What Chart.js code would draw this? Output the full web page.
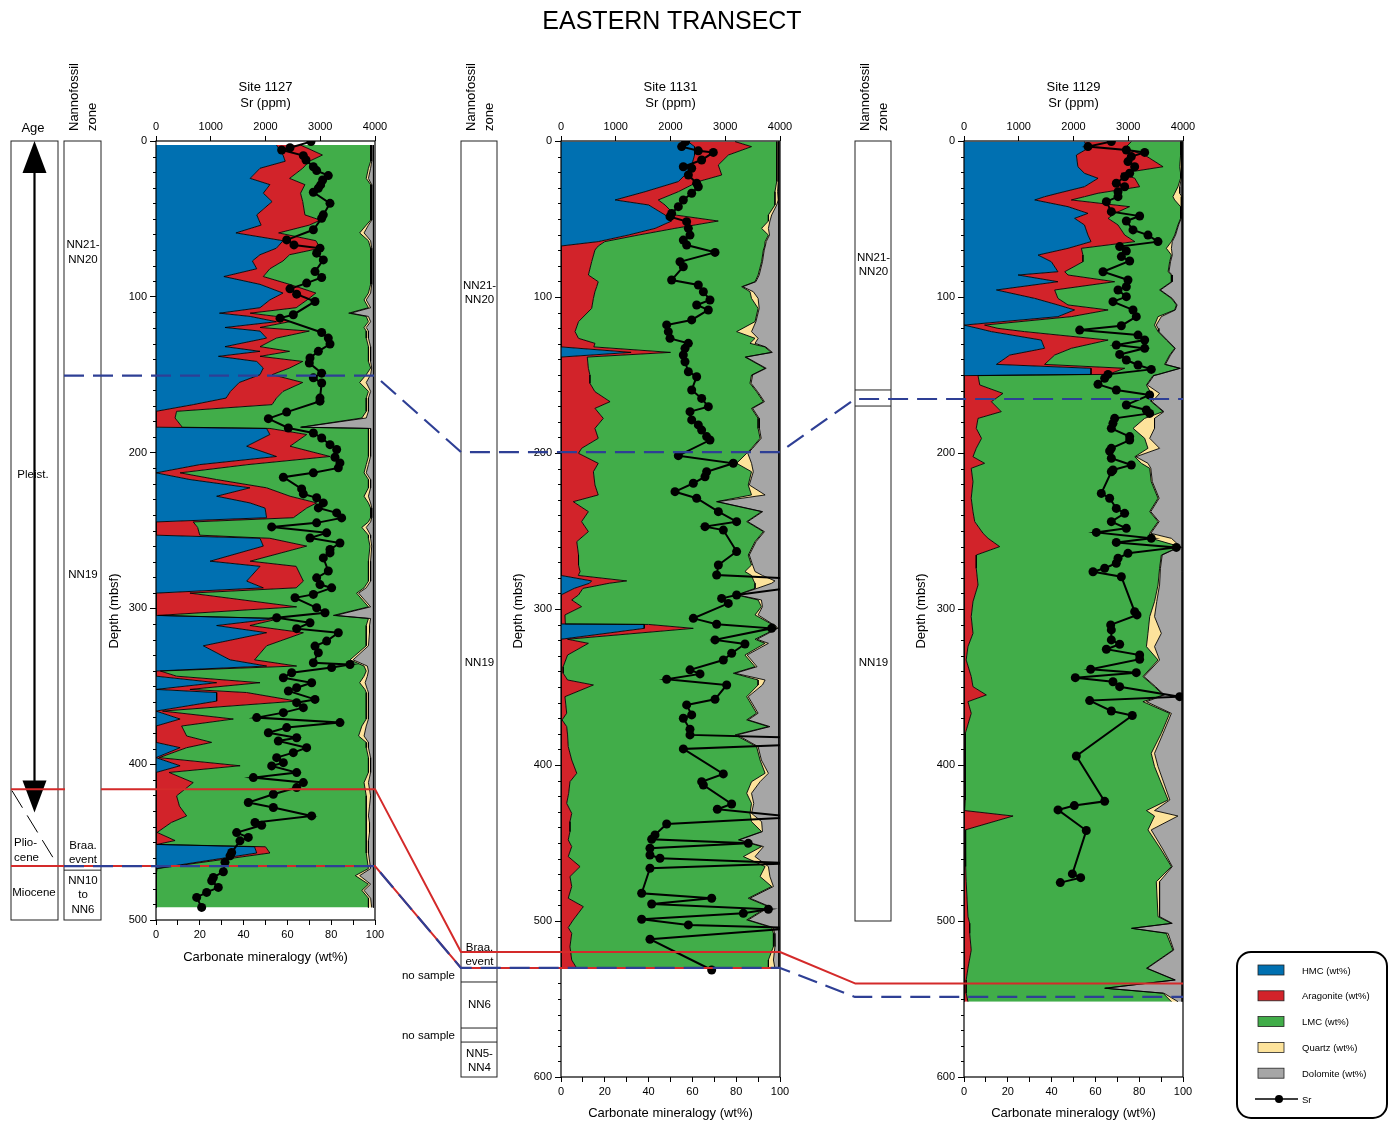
<!DOCTYPE html>
<html lang="en">
<head>
<meta charset="utf-8">
<title>Eastern Transect</title>
<script src="https://cdn.jsdelivr.net/npm/chart.js@4.4.1/dist/chart.umd.min.js"></script>
<style>
  html, body { margin: 0; padding: 0; background: #fff; }
  body { position: relative; width: 1389px; height: 1123px; overflow: hidden; }
  canvas, svg { position: absolute; }
  #overlay { left: 0; top: 0; pointer-events: none; font-family: 'Liberation Sans', Arial, sans-serif; }
</style>
</head>
<body>
<canvas id="c1127" width="290" height="915" style="left:100px; top:60px"></canvas>
<canvas id="c1131" width="290" height="1063" style="left:505px; top:60px"></canvas>
<canvas id="c1129" width="290" height="1063" style="left:908px; top:60px"></canvas>
<svg id="overlay" width="1389" height="1123"></svg>
<script>
// ---- Site 1127: carbonate mineralogy (wt%) by depth (mbsf)
const depth1127 = [
  2.6, 9, 13, 17.5, 24, 28, 33.5, 38.9, 47.4, 50.8,
  54, 59, 64, 68.8, 73, 77, 82, 87, 92, 97.6,
  102, 107, 110.5, 112.6, 116, 119.7, 122, 126.5, 132, 135,
  138.2, 141.5, 145.7, 150, 155, 160.7, 165, 169.2, 173.5, 177.8,
  183.7, 184.5, 188.4, 195.9, 202.5, 207.7, 213, 217.3, 222.6, 228,
  232.3, 235.6, 241.8, 244.5, 248, 253, 255, 260, 269.7, 273,
  282.5, 286.8, 290.2, 299, 304.5, 306.5, 311, 315.6, 324, 333,
  337, 340.2, 343.5, 347.7, 352, 354, 359.5, 365.9, 371, 375.5,
  381.9, 386, 389.4, 395.8, 401, 405.3, 411.8, 420.3, 426.9, 433.2,
  437.4, 443.8, 449, 451.5, 453, 457, 467, 471.5, 477, 481,
  486, 492
];
const hmc1127 = [
  55, 58, 59, 47.5, 43, 52, 49, 53, 46, 47,
  48, 36.5, 58, 55, 47.5, 44, 46, 31, 47.5, 58,
  52, 47.5, 29, 43, 55, 31.5, 47.5, 50.5, 31.5, 47.5,
  28.5, 46, 49, 47.5, 38, 34, 32, 17, 0, 0,
  0, 50.5, 52, 41.4, 55, 20, 0, 15.5, 42.9, 27.7,
  42.9, 49.8, 50.5, 0, 0, 0, 47.5, 49, 24.7, 47.5,
  41.4, 49, 0, 0, 0, 55, 27.7, 50.5, 21.6, 33.8,
  50.5, 0, 0, 27.7, 0, 27.7, 27.7, 0, 11, 0,
  0, 0, 11, 0, 11, 0, 0, 0, 0, 0,
  0, 0, 0, 0, 45, 46, 0, 0, 0, 0,
  0, 0
];
const arag1127 = [
  11, 18, 11, 19.5, 18, 16, 17, 14, 22, 28,
  22, 19.5, 15, 20, 13.5, 14, 6, 18, 13.5, 15,
  17, 16.5, 14, 12, 6, 16, 22.5, 4.5, 16, 13.5,
  19, 21, 12, 5.5, 29, 24, 23, 36, 9.4, 8.7,
  12, 1.5, 16.8, 19.8, 24.5, 22, 11, 12.2, 7.6, 33.5,
  30.5, 19, 12.2, 17, 19, 20, 4.5, 19.8, 18.3, 16.5,
  25.9, 15, 15.5, 64.2, 1, 1.6, 15.2, 16.8, 28.9, 11.2,
  13.7, 2, 9.4, 19.8, 15.5, 13.7, 36.5, 3, 24.3, 11.7,
  14, 25.4, 3, 1.5, 27.4, 6, 17, 9.4, 10.7, 14,
  7, 0.5, 8.7, 0.5, 5, 6, 0.5, 0, 0, 0,
  0, 0
];
const lmc1127 = [
  32, 22, 28, 30, 35, 30, 32, 31, 30, 23,
  26, 37, 24, 23, 37, 40, 46, 49, 37, 24,
  26, 33, 45, 41, 36, 47.5, 26, 41, 49.5, 36,
  49.5, 30, 37, 43, 26, 39, 41, 43, 86.6, 85.3,
  54, 45, 28.2, 35.8, 17.5, 54, 84, 69.3, 46.5, 33.8,
  23.6, 29.2, 35.3, 80, 75, 77, 45, 28.9, 54, 33,
  29.7, 31, 76.1, 32.8, 80, 40.4, 53.1, 28.7, 45.5, 43.6,
  30.8, 94, 85.6, 45.5, 79.9, 54.6, 31.8, 93, 60.7, 82.3,
  78.5, 70.6, 82, 95.5, 58.6, 91, 78, 86.6, 85.3, 82,
  89, 95.5, 87.3, 95.5, 46, 44, 96.5, 91, 97, 94,
  97, 97
];
const qtz1127 = [
  0.5, 0.5, 0.5, 1, 1, 0.5, 0.5, 0.5, 0.5, 0.5,
  1, 2, 1, 0.5, 0.5, 0.5, 0.5, 0.5, 0.5, 1,
  1, 1, 1, 1, 1, 1, 1, 1, 1, 1,
  1, 1, 0.5, 2, 3, 1, 1, 1, 1, 2,
  0.5, 1, 1, 1, 1, 1, 1, 1, 1, 2,
  1, 0.5, 0.5, 1, 2, 1, 1, 0.8, 1, 1,
  1, 1, 0.9, 1, 1, 1, 1.5, 1.5, 1, 1.4,
  1.5, 1, 1.5, 2.5, 1.1, 1, 1, 1, 1, 2,
  2.5, 1, 1, 1, 1, 1, 2, 2, 1.5, 1,
  1.5, 1.5, 1, 1, 1, 1, 1, 2, 1, 1,
  1, 1.5
];
const dol1127 = [
  0.8, 0.8, 0.8, 1.3, 2.3, 0.8, 0.8, 0.8, 0.8, 0.8,
  2.3, 4.3, 1.3, 0.8, 0.8, 0.8, 0.8, 0.8, 0.8, 1.3,
  3.3, 1.3, 10.3, 2.3, 1.3, 3.3, 2.3, 2.3, 1.3, 1.3,
  1.3, 1.3, 0.8, 1.3, 3.3, 1.3, 2.3, 2.3, 2.3, 3.3,
  32.8, 1.3, 1.3, 1.3, 1.3, 2.3, 3.3, 1.3, 1.3, 2.3,
  1.3, 0.8, 0.8, 1.3, 3.3, 1.3, 1.3, 0.8, 1.3, 1.3,
  1.3, 3.3, 6.8, 1.3, 17.3, 1.3, 1.8, 1.8, 2.3, 9.3,
  2.8, 2.3, 2.8, 3.8, 2.8, 2.3, 2.3, 2.3, 2.3, 3.3,
  4.3, 2.3, 2.3, 1.3, 1.3, 1.3, 2.3, 1.3, 1.8, 2.3,
  1.8, 1.8, 2.3, 2.3, 2.3, 2.3, 1.3, 6.3, 1.3, 4.3,
  1.3, 0.8
];
const srDepth1127 = [
  0.4, 4.3, 5.8, 9.4, 12.2, 16.5, 19, 22.2, 25, 28.2,
  30.3, 32.9, 40, 47.4, 49.6, 57, 63.5, 66.7, 68.8, 72,
  76.3, 83.8, 87.6, 91.2, 94.9, 98.3, 103, 111.5, 113.7, 122.9,
  126.5, 130.3, 135, 139.3, 142.5, 149, 152, 155.3, 165, 167,
  174, 178.2, 184.2, 187.4, 190.6, 194.9, 198, 203, 206.6, 209.8,
  213, 215.8, 223.3, 226.5, 229, 232.3, 235.5, 238.7, 241.9, 245.1,
  247.7, 251.5, 254.8, 258, 262.2, 264.4, 267.6, 276, 280.4, 284.7,
  286.8, 291, 293.2, 299.6, 302.8, 306, 309.2, 313, 315.6, 321,
  324.2, 328.5, 334.9, 336, 338, 341.3, 344.5, 347.7, 350.9, 353,
  358.4, 360.5, 363.7, 366.9, 370.1, 373.3, 376.5, 379.8, 383, 385.1,
  389.4, 392.6, 395.8, 399, 401.1, 405.4, 408.6, 411.8, 415, 419.3,
  424.6, 427.8, 433.2, 437.4, 439.2, 443.9, 447, 449.2, 456.7, 458.8,
  463, 469, 472.7, 474.8, 479.1, 482.3, 485.5, 491.9
];
const sr1127 = [
  2831, 2447, 2295, 2691, 2740, 2874, 2934, 3147, 3044, 3007,
  2965, 2874, 3178, 3056, 3026, 2874, 2387, 2520, 2995, 2934,
  3056, 2904, 3026, 2752, 2447, 2569, 2904, 2508, 2265, 3026,
  3147, 3178, 2965, 2813, 2800, 3026, 2874, 3026, 2995, 2995,
  2387, 2052, 2417, 2874, 3026, 3178, 3300, 3269, 3360, 3330,
  2874, 2326, 2660, 2691, 2934, 3056, 2965, 3300, 3391, 2934,
  2113, 3117, 2813, 3360, 3178, 3178, 3056, 3147, 2934, 2995,
  3208, 2874, 2539, 2934, 3087, 2204, 2813, 2569, 3330, 3117,
  2904, 2965, 2874, 3543, 3208, 2478, 2326, 2843, 2569, 2417,
  2904, 2569, 2691, 2326, 1839, 3360, 2387, 2052, 2569, 2234,
  2752, 2508, 2204, 2326, 2113, 2569, 1778, 2691, 2569, 2143,
  1686, 2143, 2843, 1808, 1930, 1473, 1686, 1534, 1382, 1352,
  1260, 1230, 1047, 1017, 1138, 925, 743, 834
];

// ---- Site 1131
const depth1131 = [
  0.4, 3.6, 9, 15.4, 21.8, 26, 32.5, 37.8, 41, 47.4,
  51.3, 56, 60.3, 64.5, 67.3, 69.9, 77.4, 85.9, 90.2, 93.4,
  96.6, 100.9, 107.3, 115.8, 122.2, 126.5, 129.7, 132, 135.5, 138.5,
  145.7, 150, 155.3, 160.7, 167.1, 171.4, 177.8, 184.2, 190.6, 197,
  200.2, 206.6, 212, 220.5, 226.9, 231.2, 237.6, 244, 250.4, 256.8,
  265.4, 271.8, 276, 278.5, 282, 283.5, 286.8, 291, 294.2, 298.5,
  303.8, 309.6, 309.9, 312.4, 319.4, 322, 329.5, 337, 341.2, 345.5,
  348.7, 356.2, 366.8, 371.1, 375.4, 380.7, 388.2, 396.8, 405.3, 410.7,
  418.1, 424.6, 431, 436.3, 442.7, 448, 452.3, 458.7, 465.1, 471.5,
  477.9, 485.4, 490.8, 499.3, 504.2, 507.9, 516.4, 525, 530.3
];
const hmc1131 = [
  58, 61, 61, 59.7, 56.6, 53.6, 38.4, 24.7, 40, 47.5,
  50.5, 43, 30.7, 17, 0, 0, 0, 0, 0, 0,
  0, 0, 0, 0, 0, 0, 0, 0, 32, 0,
  0, 0, 0, 0, 0, 0, 0, 0, 0, 0,
  0, 0, 0, 0, 0, 0, 0, 0, 0, 0,
  0, 0, 0, 0, 14, 13, 6, 0, 0, 0,
  0, 0, 38, 38, 0, 0, 0, 0, 0, 0,
  0, 0, 0, 0, 0, 0, 0, 0, 0, 0,
  0, 0, 0, 0, 0, 0, 0, 0, 0, 0,
  0, 0, 0, 0, 0, 0, 0, 0, 0
];
const arag1131 = [
  21.5, 26, 15.4, 12.1, 16.8, 9.1, 15.2, 19.7, 7.5, 4.5,
  21.3, 9, 4.6, 3, 17, 15.5, 14, 12.5, 17, 16.3,
  15.5, 14.8, 14, 8, 6.4, 8, 15.5, 15, 18, 12,
  12.5, 13.2, 13.2, 15.5, 22.4, 15.5, 19.3, 15.5, 17, 9.4,
  8, 17, 14.8, 15.5, 17, 5.6, 12.5, 9.4, 12.5, 7.2,
  8, 8, 8.7, 7.9, 16, 9, 4, 8, 4.9, 9.4,
  1.8, 2, 2, 22.4, 3, 12.5, 3, 1, 1, 3,
  14.8, 1.8, 2.6, 0.5, 2.6, 3, 3.3, 4.9, 7.2, 4.1,
  3.5, 2.6, 4.9, 4.1, 4.1, 3.3, 4.9, 3.3, 8.7, 4.1,
  4.9, 3.3, 10.2, 5.6, 3.3, 4.9, 4.1, 4.9, 7.2
];
const lmc1131 = [
  19, 11.5, 22.1, 26.7, 25.1, 35.8, 44.1, 53.3, 50.2, 42.7,
  22.9, 39.6, 59.4, 73.2, 76, 76.9, 77.6, 77.5, 71.6, 66.2,
  70.8, 72.2, 76, 80.6, 73.8, 80.6, 70.8, 78, 46, 72,
  80.7, 73.8, 73.1, 73.8, 70, 71.5, 70.7, 74.5, 73.9, 77.6,
  76.8, 63.2, 72.2, 70, 70, 65.4, 79.1, 75.4, 79.9, 81.4,
  77.5, 79, 75.3, 79.1, 58, 66.6, 78.6, 72.2, 85.1, 82.1,
  86.8, 94, 57, 38.1, 85.6, 80.7, 81, 87.6, 77.7, 87,
  75.2, 83, 86.7, 84.3, 92.1, 76.5, 86, 86, 86, 82.9,
  81.3, 84.4, 81.4, 82.9, 87.5, 77.7, 86.7, 80, 84.5, 86.8,
  91.3, 82.2, 84.5, 79.2, 92.9, 92.1, 92.9, 89.8, 87.5
];
const qtz1131 = [
  0.7, 0.7, 0.7, 0.7, 0.7, 0.7, 1.2, 1.5, 0.8, 1.5,
  0.7, 3.1, 0.5, 0.5, 0.3, 0.4, 0.4, 0.5, 0.4, 0.5,
  1.5, 3, 0.5, 0.4, 6.8, 1.4, 2.3, 0.5, 0.5, 0.5,
  0.5, 0.5, 0.5, 0.5, 0.5, 0.5, 0.5, 0.6, 0.5, 0.5,
  0.5, 6.8, 0.8, 0.5, 6.2, 0.5, 0.5, 0.5, 0.5, 0.5,
  0.5, 0.5, 4.6, 5, 9.7, 7.6, 0.9, 0.5, 1.5, 0.5,
  1.4, 0.5, 0.5, 0.5, 0.9, 1.5, 1, 0.9, 0.8, 3.2,
  2, 0.7, 0.7, 0.7, 0.7, 1, 0.7, 0.6, 1.5, 3.9,
  2.2, 1, 0.7, 4.6, 0.4, 0.5, 0.9, 5.3, 1.5, 4.5,
  0.8, 0.8, 0.7, 0.7, 0.8, 0.5, 0.7, 2.3, 3
];
const dol1131 = [
  0.3, 0.3, 0.3, 0.3, 0.3, 0.3, 0.6, 0.3, 1, 3.3,
  4.1, 4.8, 4.3, 5.8, 6.2, 6.7, 7.5, 9, 10.5, 16.5,
  11.7, 9.5, 9, 10.5, 12.5, 9.5, 10.9, 6, 3, 15,
  5.8, 12, 12.7, 9.7, 6.6, 12, 9, 8.9, 8.1, 12,
  14.2, 12.5, 11.7, 13.5, 6.3, 28, 7.4, 14.2, 6.6, 10.4,
  13.5, 12, 10.9, 7.5, 1.8, 3.3, 10, 18.8, 8, 7.5,
  9.5, 3, 2, 0.5, 10, 4.8, 14.5, 10, 20, 6.3,
  7.5, 14, 9.5, 14, 4.1, 19, 9.5, 8, 4.8, 8.6,
  12.5, 11.5, 12.5, 7.9, 7.5, 18, 7, 10.9, 4.8, 4.1,
  2.5, 13.2, 4.1, 14, 2.5, 2, 1.8, 2.5, 1.8
];
const srDepth1131 = [
  0.4, 3.6, 6.3, 7.3, 12.2, 16.5, 17.5, 21.8, 27.1, 29.3,
  33.5, 37.8, 42.1, 46.4, 48.5, 51.7, 56, 60.3, 63.5, 66.7,
  71.4, 77.4, 80.6, 89.1, 92.3, 96.6, 101.9, 105.1, 108.3, 114.7,
  117.9, 122.2, 126.5, 129.7, 132.9, 137.2, 141.5, 147.9, 151.1, 159.6,
  165, 170.3, 173.5, 178.8, 182, 185.3, 189.5, 191.7, 201.7, 206.6,
  212, 215.2, 219.4, 224.8, 229, 237.6, 244, 247.2, 249.4, 263.2,
  271.8, 278.2, 280.3, 286.8, 291, 293.2, 296.4, 306, 309.8, 312.4,
  319.8, 322.4, 328.4, 332.7, 339, 341.6, 345, 348.7, 357.9, 361.5,
  367.9, 370, 377.1, 380.7, 382.5, 387, 389.7, 405.7, 410.7, 412.8,
  425, 428.4, 433.5, 437.8, 444.8, 447.6, 450.2, 453.4, 457.7, 459.8,
  463, 466.2, 482.2, 485.4, 489.1, 492.5, 495.1, 498.9, 502.5, 504.5,
  511.7, 531.4
];
const sr1131 = [
  2277, 2204, 2508, 2782, 2569, 2234, 2387, 2326, 2478, 2508,
  2387, 2234, 2143, 2021, 1991, 2295, 2326, 2356, 2234, 2295,
  2813, 2173, 2234, 2021, 2508, 2600, 2721, 2478, 2691, 2387,
  1930, 1960, 1991, 2326, 2265, 2234, 2265, 2326, 2478, 2387,
  2569, 2691, 2356, 2387, 2508, 2569, 2660, 2721, 2143, 3147,
  2660, 2630, 2417, 2082, 2478, 2874, 3208, 2630, 2965, 3208,
  2874, 2843, 4150, 4100, 3208, 2934, 3056, 2417, 2843, 3847,
  2813, 3360, 3117, 2965, 2356, 2539, 1930, 3026, 2813, 2295,
  2387, 2234, 2356, 2356, 4300, 4300, 2234, 2965, 2569, 2600,
  3117, 2855, 4300, 1930, 1717, 1656, 3421, 1625, 1625, 1808,
  4300, 1625, 1473, 2752, 1656, 3787, 3330, 1473, 2326, 4300,
  1625, 2752
];

// ---- Site 1129
const depth1129 = [
  0.4, 4.7, 9, 16.5, 20.7, 23.9, 29.3, 33.5, 35.7, 37.8,
  42.1, 46.4, 49.6, 53.8, 60.3, 64.5, 68.8, 73.1, 77.4, 83.8,
  85.9, 90.2, 95.5, 100.9, 105.1, 108.3, 112.6, 118, 120.1, 122.2,
  127.6, 132.9, 137.2, 143.2, 145.7, 149.6, 150.4, 156.4, 161.8, 167.1,
  173.5, 177.8, 184.2, 190.6, 197, 202.4, 206.6, 209.8, 218.4, 229,
  237.6, 244, 251.5, 254.7, 260, 265.4, 273.9, 284.6, 295.3, 304.9,
  315.6, 324.1, 332.7, 343.3, 349.8, 355.1, 359.4, 366.9, 379.7, 392.5,
  401, 422.4, 429.2, 432.7, 441.6, 454.5, 465.1, 474.8, 497.2, 501.5,
  504.7, 507.9, 518.6, 530.3, 537.8, 543.1, 546.3, 551.7
];
const hmc1129 = [
  55, 56.6, 51.3, 52, 55, 61.2, 55, 42.9, 36.8, 32.3,
  47.5, 56.6, 50.5, 55, 56.6, 58, 47.5, 33.8, 39.9, 42.9,
  24.7, 42.9, 14.8, 32.3, 42.9, 50.5, 42.9, 0, 6.4, 12.5,
  35.3, 36.8, 20.9, 14.8, 58, 58, 0, 0, 0, 0,
  0, 0, 0, 0, 0, 0, 0, 0, 0, 0,
  0, 0, 0, 0, 0, 0, 0, 0, 0, 0,
  0, 0, 0, 0, 0, 0, 0, 0, 0, 0,
  0, 0, 0, 0, 0, 0, 0, 0, 0, 0,
  0, 0, 0, 0, 0, 0, 0, 0
];
const arag1129 = [
  21.4, 16.8, 31.2, 38.9, 16.8, 16.8, 25.2, 18.3, 18.2, 16.7,
  28.1, 12.2, 15.3, 15.3, 16.8, 20, 6.1, 20.5, 14.4, 3.1,
  22.8, 25.9, 26.6, 10.6, 4.6, 15.3, 6.1, 9.4, 9.1, 15.2,
  30.5, 12.2, 20.5, 22, 15.4, 7.8, 6.4, 7.2, 17.8, 12.5,
  17, 6.4, 5.6, 8, 5.6, 4.1, 9.4, 3.3, 4.1, 3.3,
  4.1, 4.9, 8.7, 11, 16.3, 5.6, 5.6, 6.4, 4.1, 3.3,
  4.1, 1.8, 1, 3.3, 4.1, 10.2, 1.8, 3.3, 0.6, 0.6,
  0.6, 0.6, 0.3, 22.4, 0.6, 0.6, 0.9, 1, 1.8, 2.6,
  2.6, 2.6, 3.3, 1.8, 1, 1, 1, 1.8
];
const lmc1129 = [
  22.5, 25.5, 16.4, 7.6, 27.1, 20.9, 17.5, 35, 40.4, 47.2,
  23.3, 30.1, 33.1, 27.4, 22.8, 16.7, 38.8, 40.4, 39.6, 47.2,
  47.2, 25.9, 47.9, 51.8, 49.5, 30.4, 39.6, 77.6, 72.3, 60.9,
  26.6, 47.2, 52.5, 54.8, 25.1, 22.8, 79.9, 76.1, 67.7, 73,
  73.9, 76.1, 71.6, 74.5, 78.4, 73.9, 71.6, 81.5, 81.4, 85.3,
  80.7, 83.7, 76.1, 74.5, 82.2, 84.5, 83.7, 82.2, 82.9, 81.5,
  79.9, 81.5, 87.6, 78.4, 82.9, 80.8, 79.9, 90.6, 89.5, 84.9,
  86.4, 92.6, 83, 64.6, 83.4, 89.5, 93.8, 86.8, 86.8, 92.1,
  73.8, 89.8, 92.1, 81.5, 95.2, 63.2, 89.9, 92.9
];
const qtz1129 = [
  0.3, 0.3, 0.3, 1, 0.3, 0.3, 0.8, 2.3, 4.1, 3,
  0.3, 0.3, 0.3, 0.3, 0.4, 0.4, 2.3, 0.4, 0.4, 0.4,
  0.4, 0.4, 0.4, 0.4, 0.3, 0.3, 1.5, 0.8, 0.8, 0.4,
  0.4, 0.3, 0.4, 0.4, 0.3, 0.4, 0.4, 0.4, 3.8, 0.4,
  0.4, 4.5, 9.8, 2.3, 5.3, 0.5, 3, 0.5, 0.5, 0.5,
  0.5, 0.5, 0.5, 9.2, 0.3, 0.4, 0.4, 0.7, 1, 2.2,
  6.1, 3.7, 0.7, 0.5, 0.5, 0.5, 1.6, 0.8, 0.8, 1.5,
  1.6, 0.8, 3.7, 10.7, 1.5, 0.9, 0.4, 1.5, 0.7, 0.4,
  0.4, 0.8, 0.4, 0.4, 0.3, 0.4, 0.4, 3
];
const dol1129 = [
  0.4, 0.4, 0.4, 0.1, 0.4, 0.4, 1.1, 1.1, 0.1, 0.4,
  0.4, 0.4, 0.4, 1.6, 3, 4.5, 4.9, 4.5, 5.3, 6,
  4.5, 4.5, 9.9, 4.5, 2.3, 3.1, 9.5, 11.8, 11, 10.6,
  6.8, 3.1, 5.3, 7.6, 0.8, 10.6, 12.9, 15.9, 10.3, 13.7,
  8.3, 12.6, 12.6, 14.8, 10.3, 21.1, 15.6, 14.3, 13.6, 10.5,
  14.3, 10.5, 14.3, 4.9, 0.8, 9.1, 9.9, 10.3, 11.6, 12.6,
  9.5, 12.6, 10.3, 17.4, 12.1, 8.1, 16.3, 4.9, 8.7, 12.6,
  11, 5.6, 12.6, 1.9, 14.1, 8.6, 4.5, 10.3, 10.3, 4.5,
  22.8, 6.4, 3.8, 15.9, 3.1, 35, 8.3, 1.9
];
const srDepth1129 = [
  0.4, 3.6, 5.8, 7.3, 10, 13.2, 16.5, 20.7, 22.9, 27.1,
  29.3, 32.5, 35.7, 38.9, 45.3, 48.1, 51.3, 57, 60.3, 64.5,
  67.7, 70.5, 74.1, 76.9, 83.8, 89.1, 93.4, 95.5, 99.8, 103,
  108.3, 112.6, 118.4, 121.2, 124.4, 127.6, 130.8, 132.9, 136.8, 140.4,
  143.6, 146.4, 149.6, 152.1, 156, 159.6, 162.8, 169.2, 172.4, 174.6,
  177.8, 181, 184.2, 189.5, 191.7, 197, 198.7, 203.4, 207.7, 210.9,
  212, 225.9, 229, 235.5, 238.7, 244, 248.3, 250.9, 254.7, 257.3,
  260.5, 264.3, 267.5, 270.7, 273.9, 276.1, 279.3, 301.7, 303.8, 310.2,
  313.4, 319.8, 322.6, 325.8, 329.5, 332.2, 338.6, 340.8, 344, 346.6,
  349.8, 356.2, 358.7, 365.4, 368.3, 394.2, 423.3, 426, 428.8, 442,
  469.8, 472.2, 475.4
];
const sr1129 = [
  2691, 2265, 2965, 3300, 3056, 2995, 3117, 3026, 2934, 2782,
  2934, 2813, 2813, 2600, 2691, 3208, 2965, 3087, 3360, 3543,
  2843, 2965, 2874, 3026, 2539, 2995, 2965, 2813, 2965, 2721,
  3087, 3147, 2874, 2113, 3178, 3300, 2782, 3300, 2843, 2965,
  3178, 3421, 2630, 2569, 2447, 2782, 3391, 2965, 3330, 3391,
  2752, 2721, 2691, 3026, 3026, 2691, 2660, 2691, 3056, 2721,
  2691, 2508, 2660, 2782, 2934, 2691, 2965, 2417, 3421, 2782,
  3878, 2995, 2813, 2782, 2569, 2356, 2874, 3117, 3160, 2679,
  2691, 2691, 2843, 2600, 3208, 3208, 2313, 3147, 2033, 2721,
  2843, 3939, 2295, 2691, 3074, 2052, 2569, 2015, 1717, 2234,
  1979, 2131, 1759
];

// ---- stratigraphy (depths in mbsf)
const zoneLabels1127 = [[71, ['NN21-', 'NN20']], [278, ['NN19']], [456.5, ['Braa.', 'event']], [483.5, ['NN10', 'to', 'NN6']]];
const zoneLines1127 = [468];
const zoneLabels1131 = [[96.8, ['NN21-', 'NN20']], [334, ['NN19']], [521, ['Braa.', 'event']], [553.2, ['NN6']], [589, ['NN5-', 'NN4']]];
const zoneLines1131 = [530.1, 539.1, 568.6, 577.6];
const noSample1131 = [534.6, 573];
const zoneLabels1129 = [[78.8, ['NN21-', 'NN20']], [334, ['NN19']]];
const zoneLines1129 = [159.6, 169.9];
// correlated horizons at sites 1127, 1131, 1129
const nn20Base = [150.6, 199.4, 165.4];
const braaTop = [416, 519.9, 540];
const mioceneTop = [465.4, 530.1, 548.7];

const COLORS = { hmc: '#0070b1', arag: '#d2232a', lmc: '#41ad49', qtz: '#fde39b', dol: '#a6a6a6' };

Chart.defaults.font.family = "'Liberation Sans', Arial, sans-serif";
Chart.defaults.font.size = 11;
Chart.defaults.color = '#000';

// plot frame and the short 10 m depth ticks
const frame = {
  id: 'frame',
  afterDraw(chart) {
    const { ctx, chartArea: a, scales } = chart;
    ctx.save();
    ctx.strokeStyle = '#000';
    ctx.lineWidth = 1.2;
    ctx.strokeRect(a.left, a.top, a.right - a.left, a.bottom - a.top);
    ctx.lineWidth = 1;
    ctx.beginPath();
    for (let d = 10; d < scales.y.max; d += 10) {
      if (d % 100 === 0) continue;
      const py = Math.round(scales.y.getPixelForValue(d)) + 0.5;
      ctx.moveTo(a.left - 3, py);
      ctx.lineTo(a.left, py);
    }
    ctx.stroke();
    ctx.restore();
  }
};

function siteChart(id, site, maxDepth, bottomHeight, bottomPad, depth, hmc, arag, lmc, qtz, dol, srDepth, sr) {
  const rows = arr => depth.map((d, i) => ({ x: arr[i], y: d }));
  const layer = (label, arr, color, fill) => ({
    label, data: rows(arr), xAxisID: 'x', yAxisID: 'y',
    backgroundColor: color, borderColor: '#000', borderWidth: 0.9,
    pointRadius: 0, tension: 0, fill
  });
  const grid = { drawOnChartArea: false, color: '#000', tickColor: '#000' };
  return new Chart(document.getElementById(id), {
    type: 'line',
    data: {
      datasets: [
        layer('HMC (wt%)', hmc, COLORS.hmc, 'origin'),
        layer('Aragonite (wt%)', arag, COLORS.arag, '-1'),
        layer('LMC (wt%)', lmc, COLORS.lmc, '-1'),
        layer('Quartz (wt%)', qtz, COLORS.qtz, '-1'),
        layer('Dolomite (wt%)', dol, COLORS.dol, '-1'),
        {
          label: 'Sr', data: srDepth.map((d, i) => ({ x: sr[i], y: d })),
          xAxisID: 'xSr', yAxisID: 'y', borderColor: '#000', borderWidth: 2,
          pointRadius: 4.5, pointBackgroundColor: '#000', pointBorderColor: '#000',
          pointBorderWidth: 0, tension: 0, fill: false
        }
      ]
    },
    options: {
      indexAxis: 'y',
      responsive: false,
      animation: false,
      events: [],
      layout: { padding: { left: 0, right: 15, top: 0, bottom: 0 } },
      plugins: {
        legend: { display: false },
        tooltip: { enabled: false },
        filler: { drawTime: 'beforeDatasetsDraw' }
      },
      scales: {
        y: {
          type: 'linear', position: 'left', reverse: true, min: 0, max: maxDepth,
          ticks: { stepSize: 100, padding: 3, autoSkip: false, callback: v => String(v) },
          grid: { ...grid, tickLength: 6 }, border: { display: false },
          afterFit: s => { s.width = 56; }
        },
        x: {
          type: 'linear', position: 'bottom', stacked: true, min: 0, max: 100,
          ticks: { stepSize: 10, padding: 3, autoSkip: false, maxRotation: 0,
                   callback: v => Math.round(v) % 20 === 0 ? String(Math.round(v)) : '' },
          grid: { ...grid, tickLength: 5 }, border: { display: false },
          title: { display: true, text: 'Carbonate mineralogy (wt%)', font: { size: 13 },
                   padding: { top: 0, bottom: bottomPad } },
          afterFit: s => { s.height = bottomHeight; }
        },
        xSr: {
          type: 'linear', position: 'top', min: 0, max: 4000,
          ticks: { stepSize: 1000, padding: 2, autoSkip: false, maxRotation: 0, callback: v => String(v) },
          grid: { ...grid, tickLength: 5 }, border: { display: false },
          title: { display: true, text: [site, 'Sr (ppm)'], font: { size: 13 },
                   padding: { top: 20, bottom: 0 } },
          afterFit: s => { s.height = 81; }
        }
      }
    },
    plugins: [frame]
  });
}

const c1127 = siteChart('c1127', 'Site 1127', 500, 55, 10, depth1127, hmc1127, arag1127, lmc1127, qtz1127, dol1127, srDepth1127, sr1127);
const c1131 = siteChart('c1131', 'Site 1131', 600, 46, 2, depth1131, hmc1131, arag1131, lmc1131, qtz1131, dol1131, srDepth1131, sr1131);
const c1129 = siteChart('c1129', 'Site 1129', 600, 46, 2, depth1129, hmc1129, arag1129, lmc1129, qtz1129, dol1129, srDepth1129, sr1129);

// ---- overlay: title, columns, correlation lines, legend
const svg = document.getElementById('overlay');
function add(tag, attrs, text) {
  const e = document.createElementNS('http://www.w3.org/2000/svg', tag);
  for (const k in attrs) e.setAttribute(k, attrs[k]);
  if (text !== undefined) e.textContent = text;
  svg.appendChild(e);
  return e;
}
function label(x, y, s, size = 11.5, anchor = 'middle', rotate = false) {
  const attrs = { x, y, 'font-size': size, 'text-anchor': anchor, 'dominant-baseline': 'central', fill: '#000' };
  if (rotate) attrs.transform = `rotate(-90 ${x} ${y})`;
  add('text', attrs, s);
}
function lines(x, y, arr, size = 11.5, anchor = 'middle') {
  arr.forEach((s, i) => label(x, y + (i - (arr.length - 1) / 2) * 14.5, s, size, anchor));
}
const Y = (c, d) => c.canvas.offsetTop + c.scales.y.getPixelForValue(d);
const R = c => c.canvas.offsetLeft + c.chartArea.right;
const box = (x1, y1, x2, y2) => add('rect', { x: x1, y: y1, width: x2 - x1, height: y2 - y1, fill: 'none', stroke: '#222', 'stroke-width': 1 });
const hline = (x1, x2, y) => add('line', { x1, x2, y1: y, y2: y, stroke: '#222', 'stroke-width': 1 });

label(672, 20, 'EASTERN TRANSECT', 25);
[113, 517, 920].forEach(x => label(x, 611, 'Depth (mbsf)', 13, 'middle', true));

// age column
const AGE = { x1: 11, x2: 58 };
box(AGE.x1, Y(c1127, 0), AGE.x2, Y(c1127, 500));
label(33, 127, 'Age', 13);
const ax = (AGE.x1 + AGE.x2) / 2;
const aTop = Y(c1127, 0), aBot = Y(c1127, 431);
add('line', { x1: ax, x2: ax, y1: aTop + 25, y2: aBot - 25, stroke: '#000', 'stroke-width': 2.2 });
add('polygon', { points: `${ax},${aTop} ${ax - 12},${aTop + 32} ${ax + 12},${aTop + 32}`, fill: '#000' });
add('polygon', { points: `${ax},${aBot} ${ax - 12},${aBot - 32} ${ax + 12},${aBot - 32}`, fill: '#000' });
label(33, Y(c1127, 214), 'Pleist.');
add('line', { x1: 12, y1: Y(c1127, 417), x2: 55, y2: Y(c1127, 462), stroke: '#000', 'stroke-width': 1, 'stroke-dasharray': '20 9' });
label(14, Y(c1127, 450), 'Plio-', 11.5, 'start');
label(14, Y(c1127, 459.6), 'cene', 11.5, 'start');
label(34, Y(c1127, 482), 'Miocene');

// nannofossil zone columns
[
  { c: c1127, x1: 64, x2: 101, bottom: 500, labels: zoneLabels1127, cuts: zoneLines1127 },
  { c: c1131, x1: 461, x2: 497, bottom: 600, labels: zoneLabels1131, cuts: zoneLines1131 },
  { c: c1129, x1: 855, x2: 891, bottom: 500, labels: zoneLabels1129, cuts: zoneLines1129 }
].forEach(z => {
  box(z.x1, Y(z.c, 0), z.x2, Y(z.c, z.bottom));
  z.cuts.forEach(d => hline(z.x1, z.x2, Y(z.c, d)));
  z.labels.forEach(([d, txt]) => lines((z.x1 + z.x2) / 2 + 0.5, Y(z.c, d), txt));
  label(z.x1 + 9, 131, 'Nannofossil', 13, 'start', true);
  label(z.x1 + 27, 131, 'zone', 13, 'start', true);
});
noSample1131.forEach(d => label(455, Y(c1131, d), 'no sample', 11.5, 'end'));

// correlation lines
const poly = (pts, color, width, dash) => add('polyline', {
  points: pts.map(p => p.join(',')).join(' '), fill: 'none', stroke: color, 'stroke-width': width,
  'stroke-dasharray': dash || 'none', 'stroke-linejoin': 'round'
});
const across = (d, startX) => [
  [startX, Y(c1127, d[0])], [R(c1127), Y(c1127, d[0])],
  [461, Y(c1131, d[1])], [R(c1131), Y(c1131, d[1])],
  [855, Y(c1129, d[2])], [R(c1129), Y(c1129, d[2])]
];
const RED = '#d42a2a', BLUE = '#2e3f95';
poly([[11, Y(c1127, braaTop[0])], [65, Y(c1127, braaTop[0])]], RED, 2);
poly(across(braaTop, 101), RED, 2);
poly(across(mioceneTop, 11).slice(0, 4), RED, 2);
poly(across(mioceneTop, 64), BLUE, 2.2, '20 9');
poly(across(nn20Base, 64), BLUE, 2.2, '20 9');

// legend built from the chart datasets
add('rect', { x: 1237, y: 952, width: 150, height: 166, rx: 14, fill: '#fff', stroke: '#000', 'stroke-width': 2 });
c1131.data.datasets.forEach((ds, i) => {
  const yc = 970 + i * 25.8;
  if (ds.fill === false) {
    add('line', { x1: 1255, x2: 1298, y1: yc, y2: yc, stroke: '#000', 'stroke-width': 1.6 });
    add('circle', { cx: 1279, cy: yc, r: 4, fill: '#000' });
  } else {
    add('rect', { x: 1258, y: yc - 5, width: 26, height: 10, fill: ds.backgroundColor, stroke: '#222', 'stroke-width': 0.8 });
  }
  label(1302, yc, ds.label, 9.5, 'start');
});
</script>
</body>
</html>
